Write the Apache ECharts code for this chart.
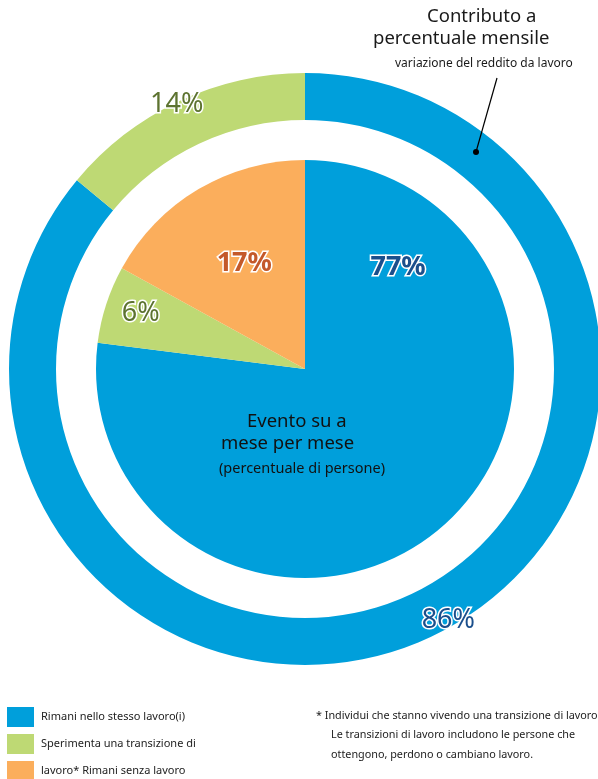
<!DOCTYPE html>
<html>
<head>
<meta charset="utf-8">
<script src="https://cdn.jsdelivr.net/npm/echarts@6/dist/echarts.min.js"></script>
<style>
  html, body { margin: 0; padding: 0; background: #fff; }
  #chart { width: 598px; height: 779px; }
</style>
</head>
<body>
<div id="chart"></div>
<script>
// Categories and shares
const categories = ['Rimani nello stesso lavoro(i)', 'Sperimenta una transizione di', 'lavoro* Rimani senza lavoro'];
const colors = ['#009fdb', '#bed974', '#fbae5c'];
// Inner pie: event month over month (share of people)
const innerValues = [77, 6, 17];
// Outer ring: contribution to monthly change of labour income
const outerCategories = ['Rimani nello stesso lavoro(i)', 'Sperimenta una transizione di'];
const outerValues = [86, 14];

const labelColors = ['#1b4f8c', '#5d7330', '#c4592a'];
const innerWeights = ['bold', 'normal', 'bold'];
const innerOffsets = [[22, -182], [-62, -22], [-6, -13]];
const outerLabelColors = ['#1b4f8c', '#5d7330'];
const outerOffsets = [[26, 2], [-11, -15]];

const FONT = '"Noto Sans", "Open Sans", sans-serif';
const cx = 305, cy = 369;

function pctLabel(color, weight, offset) {
  return {
    show: true,
    position: 'inside',
    formatter: '{c}%',
    fontFamily: FONT,
    fontSize: 27,
    fontWeight: weight,
    color: color,
    textBorderColor: '#fff',
    textBorderWidth: 3,
    textShadowColor: '#fff',
    textShadowBlur: 0,
    textShadowOffsetX: -2,
    textShadowOffsetY: 2,
    offset: offset
  };
}

const chart = echarts.init(document.getElementById('chart'), null, { renderer: 'canvas' });

chart.setOption({
  animation: false,
  backgroundColor: '#fff',
  legend: {
    data: categories,
    orient: 'vertical',
    left: 7,
    top: 707,
    height: 100,
    padding: 0,
    itemWidth: 27,
    itemHeight: 20,
    itemGap: 7,
    icon: 'rect',
    selectedMode: false,
    textStyle: { fontFamily: FONT, fontSize: 11, color: '#222', padding: [0, 0, 0, 2] }
  },
  series: [
    {
      type: 'pie',
      name: 'Evento',
      center: [cx, cy],
      radius: [0, 209],
      startAngle: 90,
      clockwise: true,
      silent: true,
      itemStyle: { borderWidth: 0 },
      labelLine: { show: false },
      data: categories.map((n, i) => ({
        name: n,
        value: innerValues[i],
        itemStyle: { color: colors[i] },
        label: pctLabel(labelColors[i], innerWeights[i], innerOffsets[i])
      }))
    },
    {
      type: 'pie',
      name: 'Contributo',
      center: [cx, cy],
      radius: [249, 296],
      startAngle: 90,
      clockwise: true,
      silent: true,
      itemStyle: { borderWidth: 0 },
      labelLine: { show: false },
      data: outerCategories.map((n, i) => ({
        name: n,
        value: outerValues[i],
        itemStyle: { color: colors[i] },
        label: pctLabel(outerLabelColors[i], 'normal', outerOffsets[i])
      }))
    }
  ],
  graphic: {
    elements: [
      { type: 'text', z: 100, left: 427, top: 7, style: { text: 'Contributo a', fontFamily: FONT, fontSize: 18.5, fill: '#1a1a1a' } },
      { type: 'text', z: 100, left: 373, top: 29, style: { text: 'percentuale mensile', fontFamily: FONT, fontSize: 18.5, fill: '#1a1a1a' } },
      { type: 'text', z: 100, left: 395, top: 58, style: { text: 'variazione del reddito da lavoro', fontFamily: FONT, fontSize: 12, fill: '#1a1a1a' } },
      { type: 'line', z: 100, shape: { x1: 497, y1: 78, x2: 476, y2: 152 }, style: { stroke: '#000', lineWidth: 1.2 } },
      { type: 'circle', z: 100, shape: { cx: 476, cy: 152, r: 3 }, style: { fill: '#000' } },
      { type: 'text', z: 100, left: 247, top: 412, style: { text: 'Evento su a', fontFamily: FONT, fontSize: 18.5, fill: '#111' } },
      { type: 'text', z: 100, left: 221, top: 434, style: { text: 'mese per mese', fontFamily: FONT, fontSize: 18.5, fill: '#111' } },
      { type: 'text', z: 100, left: 219, top: 461, style: { text: '(percentuale di persone)', fontFamily: FONT, fontSize: 14.5, fill: '#111' } },
      { type: 'text', z: 100, left: 316, top: 710, style: { text: '* Individui che stanno vivendo una transizione di lavoro.', fontFamily: FONT, fontSize: 10.8, fill: '#222' } },
      { type: 'text', z: 100, left: 331, top: 729, style: { text: 'Le transizioni di lavoro includono le persone che', fontFamily: FONT, fontSize: 10.8, fill: '#222' } },
      { type: 'text', z: 100, left: 331, top: 749, style: { text: 'ottengono, perdono o cambiano lavoro.', fontFamily: FONT, fontSize: 10.8, fill: '#222' } }
    ]
  }
});
</script>
</body>
</html>
